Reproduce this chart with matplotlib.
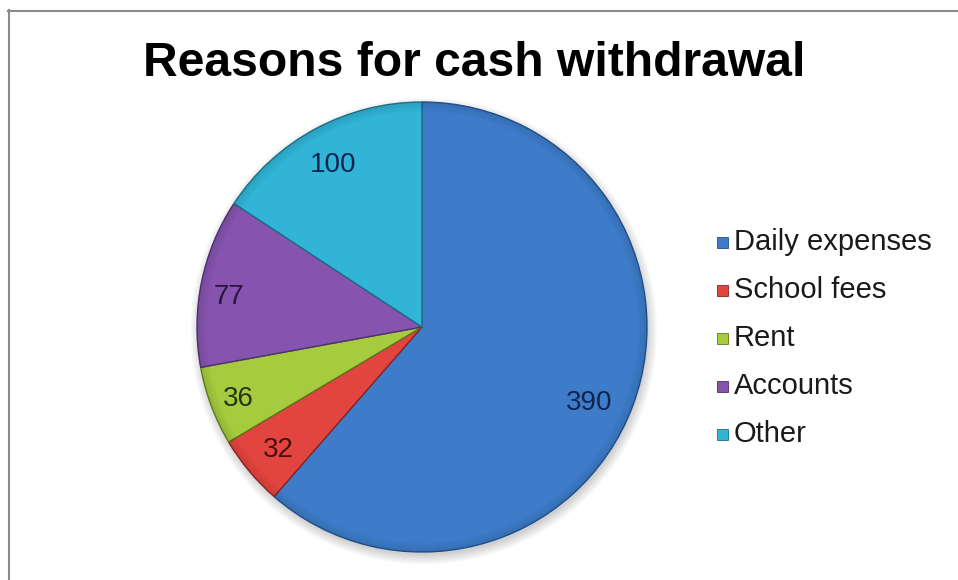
import matplotlib
matplotlib.use("Agg")
import matplotlib.pyplot as plt
from matplotlib.patches import Rectangle, Circle
from matplotlib.lines import Line2D
import numpy as np

plt.rcParams['font.family'] = ['Liberation Sans', 'DejaVu Sans']

# Data
categories = ["Daily expenses", "School fees", "Rent", "Accounts", "Other"]
values = [390, 32, 36, 77, 100]

# Styling
colors = ["#3E7CC9", "#E2453F", "#A6CB3E", "#8654AE", "#31B4D5"]
edge_colors = ["#1F4F8A", "#8E2220", "#5E7A1C", "#4E2F70", "#1B7088"]
label_colors = ["#0F2550", "#4A0E0E", "#253310", "#2A1440", "#0F2550"]
label_radius = [0.81, 0.83, 0.87, 0.87, 0.835]
label_turn = [-3.0, 0.0, 0.0, 1.8, 0.0]   # degrees off the wedge bisector

W, H = 958, 580
fig = plt.figure(figsize=(W / 100, H / 100), dpi=100)
fig.patch.set_facecolor("white")

# Pie axes: centre (cx, cy) in pixels from top-left, radius R pixels
cx, cy, R = 422, 327, 225
ax = fig.add_axes([(cx - R) / W, (H - cy - R) / H, 2 * R / W, 2 * R / H])
ax.axis("off")

# soft drop shadow under the pie
for k in range(8):
    ax.add_patch(Circle((0.008, -0.018), 0.995 + 0.006 * k, color="black",
                        alpha=0.022, lw=0, zorder=0, clip_on=False))

wedges, _ = ax.pie(values, colors=colors, startangle=90, counterclock=False,
                   radius=1.0, wedgeprops=dict(linewidth=1.0))
for w, ec in zip(wedges, edge_colors):
    w.set_edgecolor(ec)
    w.set_zorder(2)

# gradually darkened rim for a slight bevel look
for k in range(14):
    ax.add_patch(Circle((0, 0), 0.996 - 0.0028 * k, fill=False, edgecolor="black",
                        lw=0.9, alpha=0.05 * (1 - k / 14), zorder=3, clip_on=False))

ax.set_xlim(-1, 1)
ax.set_ylim(-1, 1)
ax.set_aspect("equal")

for w, v, r, t, c in zip(wedges, values, label_radius, label_turn, label_colors):
    ang = np.deg2rad((w.theta1 + w.theta2) / 2 + t)
    ax.annotate(str(v), (r * np.cos(ang), r * np.sin(ang)), xytext=(0, -2.2),
                textcoords="offset points", ha="center", va="center",
                fontsize=20, color=c, zorder=5)

# Title
fig.text(474 / W, 1 - 63 / H, "Reasons for cash withdrawal", ha="center",
         va="center", fontsize=34.6, fontweight="bold", color="black")

# Legend
for i, (cat, col, ec) in enumerate(zip(categories, colors, edge_colors)):
    yc = 242 + 48 * i
    fig.add_artist(Rectangle((717 / W, 1 - (yc + 5.5) / H), 11 / W, 11 / H,
                             facecolor=col, edgecolor=ec, lw=0.6,
                             transform=fig.transFigure))
    fig.text(734 / W, 1 - yc / H, cat, ha="left", va="center",
             fontsize=21, color="#1a1a1a")

# Chart-area frame (top and left edges)
fig.add_artist(Line2D([8 / W, 1.0], [1 - 10.5 / H, 1 - 10.5 / H],
                      color="#8a8a8a", lw=1.5, transform=fig.transFigure))
fig.add_artist(Line2D([8.5 / W, 8.5 / W], [0, 1 - 10 / H],
                      color="#8a8a8a", lw=1.5, transform=fig.transFigure))

fig.savefig("out.png", dpi=100, facecolor="white")
